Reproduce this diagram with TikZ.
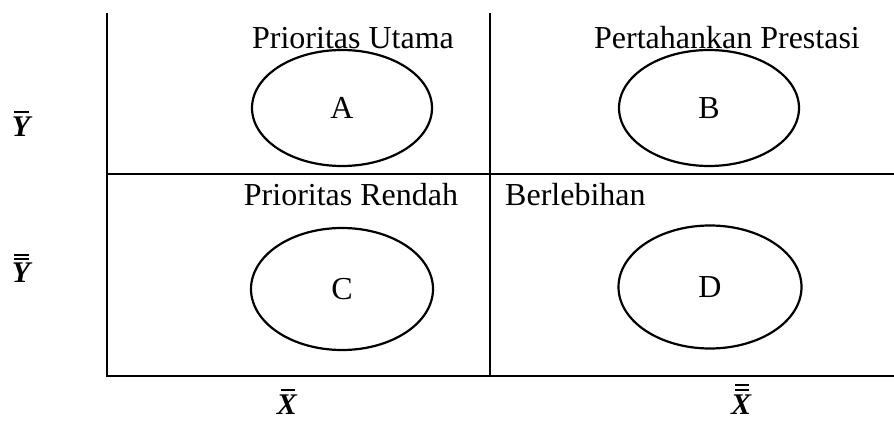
\documentclass[tikz,border=0pt]{standalone}
\usepackage{fontspec}
\setmainfont{Liberation Serif}
\usetikzlibrary{shapes.geometric}
\begin{document}
\begin{tikzpicture}[x=1pt,y=-1pt,
  frame/.style={line width=1.8pt},
  oval/.style={draw,ellipse,line width=2.2pt,inner sep=0pt,font=\fontsize{32}{34}\selectfont},
  lbl/.style={font=\fontsize{32}{36}\selectfont,inner sep=0pt},
  axl/.style={font=\fontsize{30}{34}\selectfont\bfseries\itshape,inner sep=0pt},
  barline/.style={line width=1.4pt}]
\useasboundingbox (0,0) rectangle (894,422);
\coordinate (tl) at (107,13);
\coordinate (bl) at (107,376);
\coordinate (tm) at (490,13);
\coordinate (bm) at (490,376);
\coordinate (ml) at (107,174);
\coordinate (mr) at (894,174);
\coordinate (br) at (894,376);
\draw[frame] (tl) -- (bl) -- (br);
\draw[frame] (tm) -- (bm);
\draw[frame] (ml) -- (mr);
\node[oval,minimum width=180pt,minimum height=116pt] (A) at (342,108) {A};
\node[oval,minimum width=180pt,minimum height=116pt] (B) at (709,108) {B};
\node[oval,minimum width=182pt,minimum height=122pt] (C) at (342,289) {C};
\node[oval,minimum width=183pt,minimum height=123pt] (D) at (710,287) {D};
\node[lbl] (tA) at (353,38) {Prioritas Utama};
\node[lbl] (tB) at (727,38) {Pertahankan Prestasi};
\node[lbl] (tC) at (351,195) {Prioritas Rendah};
\node[lbl,anchor=west] (tD) at (505,195) {Berlebihan};
% axis labels
\node[axl] (y1) at (21,127) {Y};
\draw[barline] ([xshift=-7pt,yshift=5pt]y1.north) -- ++(15pt,0);
\node[axl] (y2) at (21,273) {Y};
\draw[barline] ([xshift=-7pt,yshift=4pt]y2.north) -- ++(15pt,0);
\draw[barline] ([xshift=-7pt,yshift=8pt]y2.north) -- ++(15pt,0);
\node[axl] (x1) at (287,405) {X};
\draw[barline] ([xshift=-6pt,yshift=5pt]x1.north) -- ++(14pt,0);
\node[axl] (x2) at (741,405) {X};
\draw[barline] ([xshift=-6pt,yshift=5pt]x2.north) -- ++(14pt,0);
\draw[barline] ([xshift=-6pt,yshift=10pt]x2.north) -- ++(14pt,0);
\end{tikzpicture}
\end{document}
